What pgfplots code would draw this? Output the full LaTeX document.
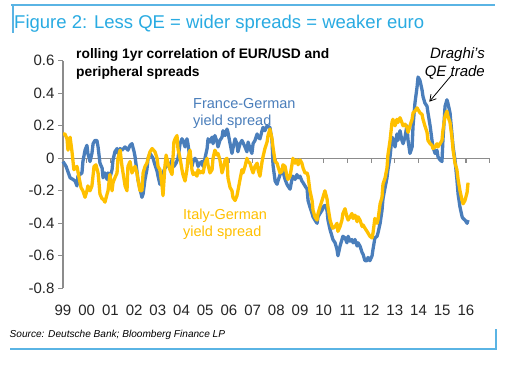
\documentclass[border=0pt]{standalone}
\usepackage{fontspec}
\setmainfont{Liberation Sans}
\usepackage{pgfplots}
\usepackage{pgfplotstable}
\pgfplotsset{compat=1.18}
\usetikzlibrary{arrows.meta}
\definecolor{dbblue}{RGB}{74,126,187}
\definecolor{dbyellow}{RGB}{255,192,0}
\definecolor{titleblue}{RGB}{41,171,226}
\definecolor{frameblue}{RGB}{90,180,228}
\definecolor{axisgray}{RGB}{140,140,140}

\pgfplotstableread{
yr v
1999.00 -0.02
1999.13 -0.05
1999.30 -0.12
1999.42 -0.13
1999.51 -0.14
1999.59 -0.17
1999.63 -0.11
1999.80 -0.09
1999.84 -0.02
1999.93 0.05
2000.01 0.08
2000.05 0.03
2000.14 -0.02
2000.22 0.03
2000.27 0.09
2000.35 0.11
2000.43 0.11
2000.48 0.07
2000.56 -0.03
2000.65 -0.06
2000.69 -0.12
2000.77 -0.09
2000.86 -0.13
2000.90 -0.09
2000.98 -0.12
2001.07 -0.07
2001.11 -0.01
2001.19 0.04
2001.28 0.06
2001.32 0.03
2001.41 0.06
2001.49 0.05
2001.62 0.07
2001.74 0.05
2001.83 0.08
2001.91 0.09
2002.00 0.04
2002.04 0.01
2002.12 -0.08
2002.16 -0.13
2002.25 -0.19
2002.33 -0.24
2002.38 -0.22
2002.46 -0.13
2002.54 -0.07
2002.59 0.00
2002.67 0.03
2002.76 0.01
2002.80 0.00
2002.88 -0.04
2002.97 -0.08
2003.01 -0.11
2003.09 -0.16
2003.18 -0.13
2003.22 -0.09
2003.30 -0.06
2003.43 -0.04
2003.51 -0.04
2003.60 -0.01
2003.68 -0.05
2003.77 -0.03
2003.85 0.00
2003.94 0.09
2004.02 0.12
2004.06 0.11
2004.15 0.07
2004.23 0.12
2004.27 0.09
2004.36 0.00
2004.44 -0.05
2004.49 -0.02
2004.57 0.00
2004.65 -0.02
2004.70 -0.05
2004.78 -0.03
2004.86 -0.02
2004.91 -0.05
2004.99 0.00
2005.08 0.06
2005.12 0.12
2005.20 0.10
2005.29 0.13
2005.33 0.09
2005.41 0.14
2005.50 0.10
2005.54 0.07
2005.62 0.11
2005.71 0.13
2005.75 0.17
2005.84 0.14
2005.92 0.18
2005.96 0.16
2006.05 0.09
2006.13 0.03
2006.17 0.06
2006.26 0.12
2006.34 0.09
2006.38 0.04
2006.47 0.09
2006.55 0.11
2006.68 0.07
2006.76 0.04
2006.81 0.10
2006.89 0.06
2006.97 0.03
2007.02 0.09
2007.10 0.11
2007.19 0.15
2007.23 0.13
2007.31 0.12
2007.40 0.17
2007.44 0.19
2007.52 0.17
2007.61 0.20
2007.73 0.19
2007.82 0.11
2007.86 -0.04
2007.95 -0.14
2008.03 -0.16
2008.07 -0.14
2008.16 -0.10
2008.24 -0.07
2008.28 -0.08
2008.37 -0.13
2008.45 -0.16
2008.49 -0.17
2008.58 -0.19
2008.66 -0.13
2008.70 -0.11
2008.79 -0.13
2008.87 -0.10
2008.92 -0.12
2009.00 -0.11
2009.08 -0.14
2009.13 -0.15
2009.21 -0.17
2009.30 -0.19
2009.34 -0.26
2009.42 -0.30
2009.51 -0.34
2009.55 -0.36
2009.63 -0.38
2009.72 -0.40
2009.76 -0.36
2009.84 -0.34
2009.93 -0.32
2009.97 -0.30
2010.05 -0.29
2010.14 -0.32
2010.18 -0.38
2010.27 -0.44
2010.35 -0.48
2010.39 -0.50
2010.48 -0.52
2010.56 -0.56
2010.60 -0.60
2010.69 -0.54
2010.77 -0.50
2010.81 -0.48
2010.90 -0.49
2010.98 -0.52
2011.03 -0.48
2011.11 -0.51
2011.19 -0.50
2011.24 -0.52
2011.32 -0.50
2011.41 -0.54
2011.45 -0.52
2011.53 -0.54
2011.62 -0.58
2011.66 -0.59
2011.74 -0.63
2011.83 -0.63
2011.87 -0.61
2011.95 -0.63
2012.04 -0.60
2012.08 -0.56
2012.16 -0.49
2012.25 -0.48
2012.29 -0.46
2012.38 -0.40
2012.46 -0.32
2012.50 -0.25
2012.59 -0.18
2012.67 -0.12
2012.71 -0.07
2012.80 0.01
2012.88 0.13
2012.92 0.12
2013.01 0.07
2013.09 0.15
2013.13 0.11
2013.22 0.17
2013.30 0.11
2013.35 0.09
2013.43 0.13
2013.51 0.20
2013.56 0.11
2013.64 0.03
2013.73 0.07
2013.77 0.20
2013.85 0.34
2013.94 0.44
2013.98 0.50
2014.06 0.48
2014.15 0.42
2014.19 0.38
2014.27 0.34
2014.36 0.32
2014.40 0.28
2014.49 0.20
2014.57 0.11
2014.61 0.07
2014.70 0.03
2014.78 0.05
2014.82 0.01
2014.91 -0.01
2014.99 -0.02
2015.03 0.11
2015.12 0.32
2015.20 0.36
2015.24 0.34
2015.33 0.28
2015.41 0.15
2015.46 0.07
2015.54 -0.01
2015.62 -0.13
2015.67 -0.22
2015.75 -0.30
2015.84 -0.36
2015.88 -0.37
2015.96 -0.38
2016.05 -0.40
2016.09 -0.38
}\francetab

\pgfplotstableread{
yr v
1999.00 0.15
1999.08 0.15
1999.17 0.12
1999.21 0.05
1999.30 0.13
1999.38 0.04
1999.46 -0.07
1999.59 -0.05
1999.68 -0.12
1999.76 -0.18
1999.84 -0.20
1999.93 -0.24
2000.01 -0.20
2000.05 -0.17
2000.14 -0.20
2000.22 -0.17
2000.31 -0.05
2000.39 -0.04
2000.48 -0.09
2000.56 -0.22
2000.65 -0.25
2000.69 -0.25
2000.77 -0.27
2000.86 -0.22
2000.90 -0.20
2000.98 -0.10
2001.07 -0.20
2001.11 -0.15
2001.19 -0.12
2001.28 -0.09
2001.32 0.00
2001.41 0.05
2001.49 -0.05
2001.62 -0.17
2001.70 -0.20
2001.74 -0.05
2001.83 -0.02
2001.91 -0.09
2002.04 -0.05
2002.12 -0.09
2002.16 -0.13
2002.25 -0.20
2002.33 -0.20
2002.38 -0.09
2002.46 -0.05
2002.54 -0.03
2002.59 0.00
2002.67 0.04
2002.76 0.06
2002.88 0.04
2002.97 0.00
2003.01 -0.05
2003.09 -0.07
2003.18 -0.17
2003.22 -0.23
2003.30 -0.05
2003.35 0.02
2003.43 -0.03
2003.51 -0.07
2003.60 -0.10
2003.64 0.00
2003.68 0.10
2003.73 0.12
2003.81 0.14
2003.85 0.06
2003.94 0.00
2004.02 -0.07
2004.06 -0.10
2004.15 -0.14
2004.23 -0.07
2004.27 0.00
2004.36 0.05
2004.44 -0.07
2004.49 -0.10
2004.57 -0.09
2004.65 -0.11
2004.70 -0.07
2004.78 -0.09
2004.86 -0.08
2004.91 -0.09
2004.99 -0.03
2005.08 0.00
2005.12 -0.04
2005.20 -0.09
2005.29 -0.07
2005.33 0.00
2005.41 0.05
2005.50 0.02
2005.54 0.03
2005.62 -0.01
2005.71 -0.09
2005.75 -0.07
2005.84 -0.01
2005.92 0.00
2005.96 -0.12
2006.05 -0.18
2006.13 -0.20
2006.17 -0.24
2006.26 -0.26
2006.34 -0.23
2006.38 -0.20
2006.47 -0.13
2006.55 -0.07
2006.59 -0.09
2006.68 -0.05
2006.76 0.00
2006.81 -0.02
2006.89 -0.03
2006.97 -0.07
2007.02 -0.09
2007.10 -0.05
2007.19 -0.03
2007.23 -0.07
2007.31 -0.11
2007.40 -0.02
2007.44 0.01
2007.52 0.06
2007.61 0.10
2007.65 0.14
2007.73 0.18
2007.82 0.12
2007.86 0.07
2007.95 -0.02
2008.03 -0.03
2008.07 -0.05
2008.16 -0.09
2008.24 -0.08
2008.28 -0.04
2008.37 -0.05
2008.45 -0.11
2008.49 -0.13
2008.58 -0.11
2008.66 -0.04
2008.70 0.00
2008.79 -0.03
2008.87 -0.01
2008.92 -0.04
2009.00 -0.01
2009.08 -0.03
2009.13 -0.06
2009.21 -0.09
2009.30 -0.09
2009.34 -0.11
2009.42 -0.20
2009.51 -0.26
2009.55 -0.32
2009.63 -0.36
2009.72 -0.38
2009.76 -0.34
2009.84 -0.30
2009.93 -0.26
2009.97 -0.24
2010.05 -0.20
2010.14 -0.25
2010.18 -0.30
2010.27 -0.38
2010.35 -0.42
2010.39 -0.43
2010.48 -0.42
2010.56 -0.40
2010.60 -0.45
2010.69 -0.42
2010.77 -0.38
2010.81 -0.34
2010.90 -0.31
2010.98 -0.36
2011.03 -0.38
2011.11 -0.36
2011.19 -0.34
2011.24 -0.37
2011.32 -0.35
2011.41 -0.39
2011.45 -0.36
2011.53 -0.38
2011.62 -0.42
2011.66 -0.41
2011.74 -0.43
2011.83 -0.45
2011.87 -0.46
2011.95 -0.48
2012.04 -0.49
2012.08 -0.46
2012.16 -0.37
2012.25 -0.40
2012.29 -0.38
2012.38 -0.28
2012.46 -0.24
2012.50 -0.16
2012.59 -0.12
2012.67 -0.06
2012.71 0.02
2012.80 0.11
2012.88 0.22
2012.92 0.24
2013.01 0.20
2013.09 0.24
2013.13 0.22
2013.22 0.25
2013.30 0.22
2013.35 0.20
2013.43 0.21
2013.51 0.19
2013.56 0.16
2013.64 0.20
2013.73 0.24
2013.77 0.28
2013.85 0.29
2013.94 0.31
2013.98 0.30
2014.06 0.28
2014.15 0.27
2014.19 0.24
2014.27 0.20
2014.36 0.16
2014.40 0.11
2014.49 0.09
2014.57 0.08
2014.61 0.06
2014.70 0.07
2014.78 0.09
2014.82 0.07
2014.91 0.09
2014.99 0.11
2015.03 0.17
2015.12 0.26
2015.20 0.29
2015.24 0.26
2015.33 0.22
2015.41 0.13
2015.46 0.05
2015.54 -0.03
2015.62 -0.07
2015.67 -0.13
2015.75 -0.20
2015.84 -0.26
2015.88 -0.28
2015.96 -0.26
2016.05 -0.21
2016.09 -0.15
}\italytab

\begin{document}
\begin{tikzpicture}
\useasboundingbox (0pt,0pt) rectangle (526pt,376pt);
\fill[white] (0pt,0pt) rectangle (526pt,376pt);
% frame
\draw[frameblue, line width=1.4pt] (11pt,371pt) -- (495pt,371pt);
\draw[frameblue, line width=1.4pt] (13pt,371pt) -- (13pt,343pt);
\draw[frameblue, line width=1.4pt] (10pt,27pt) -- (496.7pt,27pt);
\draw[frameblue, line width=1.4pt] (496pt,27pt) -- (496pt,47pt);
% title
\node[anchor=base west, inner sep=0pt, text=titleblue, font=\fontsize{18.5}{22}\selectfont] at (14pt,348pt) {Figure 2: Less QE = wider spreads = weaker euro};
% subtitle
\node[anchor=base west, inner sep=0pt, font=\fontsize{13.8}{16}\selectfont\bfseries] at (76pt,317.5pt) {rolling 1yr correlation of EUR/USD and};
\node[anchor=base west, inner sep=0pt, font=\fontsize{13.8}{16}\selectfont\bfseries] at (76pt,299.5pt) {peripheral spreads};
% series labels
\node[anchor=base west, inner sep=0pt, text=dbblue, font=\fontsize{14.5}{17}\selectfont] at (193pt,267.7pt) {France-German};
\node[anchor=base west, inner sep=0pt, text=dbblue, font=\fontsize{14.5}{17}\selectfont] at (193pt,251pt) {yield spread};
\node[anchor=base west, inner sep=0pt, text=dbyellow, font=\fontsize{14.5}{17}\selectfont] at (183pt,156.7pt) {Italy-German};
\node[anchor=base west, inner sep=0pt, text=dbyellow, font=\fontsize{14.5}{17}\selectfont] at (183pt,139.3pt) {yield spread};
% Draghi annotation
\node[anchor=base east, inner sep=0pt, font=\fontsize{15}{18}\selectfont\itshape] at (485pt,317.7pt) {Draghi's};
\node[anchor=base east, inner sep=0pt, font=\fontsize{15}{18}\selectfont\itshape] at (485pt,299.3pt) {QE trade};
% source
\node[anchor=base west, inner sep=0pt, font=\fontsize{10.1}{12}\selectfont\itshape] at (9.5pt,39pt) {Source: Deutsche Bank; Bloomberg Finance LP};

\begin{axis}[
  at={(63pt,87.7pt)}, anchor=south west,
  scale only axis, width=426.6pt, height=227.5pt,
  xmin=1999, xmax=2017, ymin=-0.8, ymax=0.6,
  axis x line*=bottom, axis y line*=left,
  x axis line style={draw=none},
  y axis line style={axisgray, line width=1.2pt},
  xtick={1999,2000,2001,2002,2003,2004,2005,2006,2007,2008,2009,2010,2011,2012,2013,2014,2015,2016},
  xticklabels={99,00,01,02,03,04,05,06,07,08,09,10,11,12,13,14,15,16},
  ytick={-0.8,-0.6,-0.4,-0.2,0,0.2,0.4,0.6},
  yticklabels={-0.8,-0.6,-0.4,-0.2,0,0.2,0.4,0.6},
  xtick style={draw=none},
  ytick style={axisgray, line width=1.2pt},
  tick align=outside,
  major tick length=5pt,
  minor tick num=0,
  tick label style={font=\fontsize{15}{18}\selectfont, text=black!85},
  xticklabel style={yshift=-8pt},
  clip=false,
]
\draw[axisgray, line width=1.2pt] (axis cs:1999,0) -- (axis cs:2017,0);
\pgfplotsinvokeforeach{2000,...,2017}{\draw[axisgray, line width=1.2pt] (axis cs:#1,0) -- ++(0pt,-5pt);}
\addplot[dbblue, line width=3.3pt, line join=round] table[x=yr, y=v] {\francetab};
\addplot[dbyellow, line width=3.3pt, line join=round] table[x=yr, y=v] {\italytab};
\end{axis}

\draw[black, line width=0.8pt, -{Straight Barb[length=6pt, width=7pt]}] (451.7pt,301pt) -- (429.3pt,274.3pt);
\end{tikzpicture}
\end{document}
